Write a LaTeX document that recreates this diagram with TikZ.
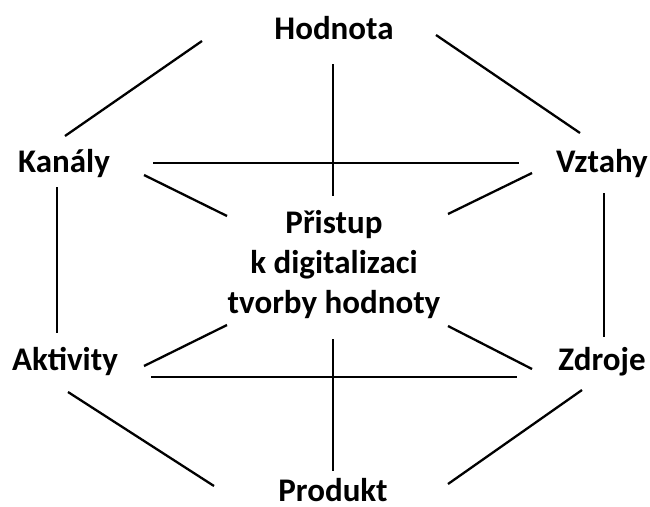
\documentclass[tikz,border=0pt]{standalone}
\usepackage{fontspec}
\setmainfont{Carlito}
\begin{document}
\begin{tikzpicture}[x=1pt,y=-1pt,
  lbl/.style={font=\bfseries\fontsize{33}{40}\selectfont, inner sep=0pt, anchor=base},
  conn/.style={line width=2.3pt, black}]
\useasboundingbox (0,0) rectangle (650,506);
\node[lbl] (hod) at (334,39) {Hodnota};
\node[lbl] (kan) at (64,172) {Kanály};
\node[lbl] (vzt) at (602,172) {Vztahy};
\node[lbl,align=center] (mid) at (334,313) {Přistup\\k digitalizaci\\tvorby hodnoty};
\node[lbl] (akt) at (65,370) {Aktivity};
\node[lbl] (zdr) at (602,370) {Zdroje};
\node[lbl] (pro) at (333,501) {Produkt};
% connector end points
\coordinate (hk1) at (202,41);  \coordinate (hk2) at (65,136);
\coordinate (hv1) at (436,35);  \coordinate (hv2) at (580,133);
\coordinate (vt1) at (333,64);  \coordinate (vt2) at (333,196);
\coordinate (ht1) at (153,163); \coordinate (ht2) at (519,163);
\coordinate (kc1) at (144,175); \coordinate (kc2) at (227,216);
\coordinate (vc1) at (532,173); \coordinate (vc2) at (448,214);
\coordinate (lv1) at (57,187);  \coordinate (lv2) at (57,333);
\coordinate (rv1) at (604,193); \coordinate (rv2) at (604,337);
\coordinate (ac1) at (144,366); \coordinate (ac2) at (227,325);
\coordinate (zc1) at (532,369); \coordinate (zc2) at (448,326);
\coordinate (hb1) at (151,377); \coordinate (hb2) at (517,377);
\coordinate (vb1) at (333,339); \coordinate (vb2) at (333,471);
\coordinate (ap1) at (68,392);  \coordinate (ap2) at (214,486);
\coordinate (zp1) at (582,390); \coordinate (zp2) at (448,484);
\draw[conn] (hk1) -- (hk2);
\draw[conn] (hv1) -- (hv2);
\draw[conn] (vt1) -- (vt2);
\draw[conn] (ht1) -- (ht2);
\draw[conn] (kc1) -- (kc2);
\draw[conn] (vc1) -- (vc2);
\draw[conn] (lv1) -- (lv2);
\draw[conn] (rv1) -- (rv2);
\draw[conn] (ac1) -- (ac2);
\draw[conn] (zc1) -- (zc2);
\draw[conn] (hb1) -- (hb2);
\draw[conn] (vb1) -- (vb2);
\draw[conn] (ap1) -- (ap2);
\draw[conn] (zp1) -- (zp2);
\end{tikzpicture}
\end{document}
